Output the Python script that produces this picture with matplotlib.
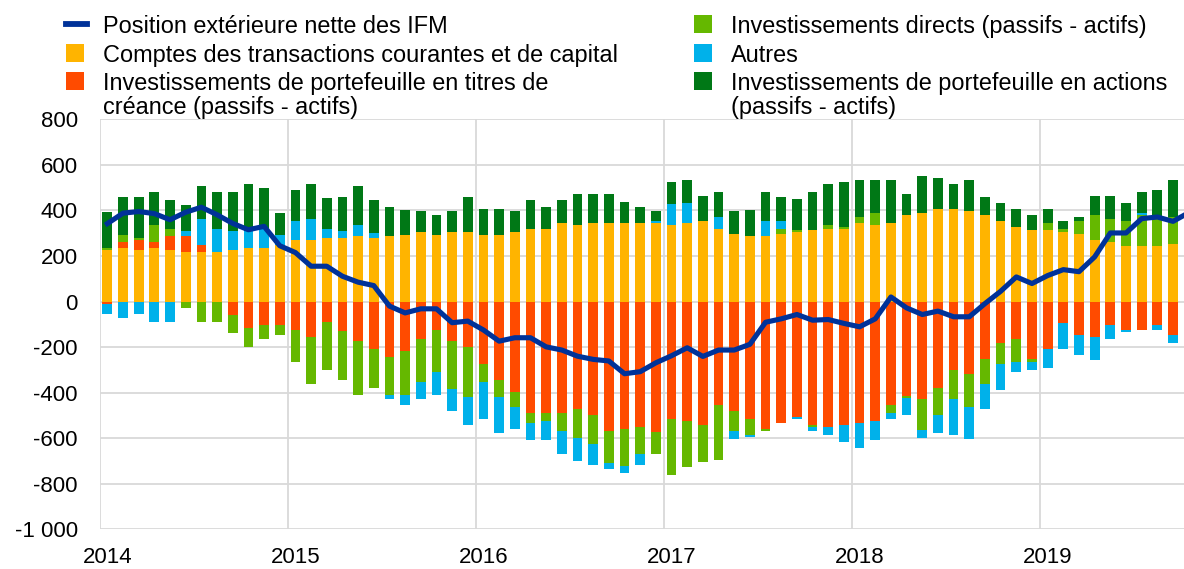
import numpy as np
import matplotlib
matplotlib.use("Agg")
import matplotlib.pyplot as plt
from matplotlib.patches import Rectangle
from matplotlib.lines import Line2D

# ---------------- data (EUR billions, monthly Jan 2014 - Oct 2019) ----------------
years = ["2014", "2015", "2016", "2017", "2018", "2019"]

current_capital = [225, 235, 228, 235, 228, 219, 219, 216, 225, 235, 235, 247,
                   269, 269, 277, 277, 286, 277, 286, 293, 304, 293, 304, 304,
                   293, 293, 304, 320, 320, 346, 337, 346, 346, 346, 346, 346,
                   337, 346, 355, 320, 295, 286, 286, 295, 304, 312, 320, 320,
                   346, 337, 346, 380, 388, 406, 406, 397, 380, 355, 329, 312,
                   312, 304, 295, 269, 261, 244, 244, 244, 253, 250]
portfolio_debt = [-13, 25, 41, 25, 58, 67, 31, 0, -61, -115, -105, -105,
                  -123, -156, -89, -131, -174, -207, -242, -216, -165, -123, -174, -199,
                  -276, -345, -396, -491, -491, -491, -473, -499, -568, -558, -550, -575,
                  -515, -524, -542, -456, -482, -515, -558, -533, -507, -542, -550, -542,
                  -533, -524, -456, -413, -429, -380, -302, -320, -251, -183, -166, -251,
                  -207, -96, -147, -156, -105, -123, -123, -105, -147, -165]
direct_inv = [8, 34, 9, 77, 34, -28, -89, -89, -79, -85, -61, -42,
              -143, -204, -212, -212, -238, -171, -169, -196, -187, -187, -212, -222,
              -76, -76, -69, -41, -34, -77, -128, -127, -143, -162, -118, -93,
              -247, -204, -161, -238, -85, -69, -9, 25, 9, -9, 18, 9,
              25, 51, -35, -9, -137, -120, -127, -145, -111, -93, -101, -16,
              34, 16, 60, 111, 102, 111, 136, 127, 118, 160]
others = [-41, -72, -54, -89, -89, 25, 114, 104, 86, 76, 85, 47,
          86, 95, 42, 34, 51, 26, -18, -44, -77, -102, -95, -120,
          -162, -155, -93, -77, -85, -101, -101, -93, -25, -34, -51, 9,
          93, 85, 0, 51, -35, -9, 69, 35, -9, -16, -34, -76,
          -111, -85, -25, -76, -35, -76, -155, -137, -111, -111, -42, -34,
          -85, -111, -86, -102, -60, -9, 9, -18, -34, 0]
portfolio_equity = [159, 164, 180, 145, 127, 111, 145, 162, 171, 206, 180, 95,
                    136, 153, 137, 146, 171, 143, 127, 111, 92, 86, 92, 153,
                    112, 112, 92, 127, 93, 101, 136, 127, 127, 93, 67, 41,
                    93, 102, 109, 111, 101, 118, 127, 102, 136, 169, 180, 196,
                    162, 145, 187, 93, 162, 136, 111, 136, 77, 76, 77, 67,
                    60, 35, 16, 85, 101, 76, 93, 120, 162, 150]
mfi_position = [342, 388, 395, 386, 359, 392, 414, 381, 343, 315, 330, 245,
                215, 155, 155, 111, 85, 70, -20, -50, -32, -32, -93, -86,
                -125, -174, -159, -159, -199, -213, -240, -254, -261, -317, -308, -269,
                -238, -203, -241, -213, -213, -188, -91, -76, -57, -82, -79, -96,
                -111, -76, 20, -28, -57, -42, -67, -67, -9, 45, 108, 79,
                114, 140, 131, 196, 301, 301, 364, 371, 352, 390]

labels = ["Position extérieure nette des IFM",
          "Comptes des transactions courantes et de capital",
          "Investissements de portefeuille en titres de\ncréance (passifs - actifs)",
          "Investissements directs (passifs - actifs)",
          "Autres",
          "Investissements de portefeuille en actions\n(passifs - actifs)"]

# ---------------- style ----------------
C_LINE = "#003299"
C_CA = "#FFB400"
C_DEBT = "#FF4B00"
C_FDI = "#65B800"
C_OTH = "#00B1EA"
C_EQ = "#007816"
GRID = "#D9D9D9"

plt.rcParams["font.family"] = ["Liberation Sans", "DejaVu Sans"]

W, H = 1184, 569
fig = plt.figure(figsize=(W / 100, H / 100), dpi=100)

x0_px, x1_px = 99.5, 1184.0
y_top_px, y_bot_px = 119.3, 529.3
ax = fig.add_axes([x0_px / W, 1 - y_bot_px / H, (x1_px - x0_px) / W, (y_bot_px - y_top_px) / H])

n = len(current_capital)
x = np.arange(n) + 0.5
series = [(current_capital, C_CA), (portfolio_debt, C_DEBT), (direct_inv, C_FDI),
          (others, C_OTH), (portfolio_equity, C_EQ)]
pos_base = np.zeros(n)
neg_base = np.zeros(n)
bw = 0.62
for vals, col in series:
    v = np.asarray(vals, dtype=float)
    p = np.where(v > 0, v, 0)
    m = np.where(v < 0, v, 0)
    ax.bar(x, p, bw, bottom=pos_base, color=col, linewidth=0, zorder=2)
    ax.bar(x, m, bw, bottom=neg_base, color=col, linewidth=0, zorder=2)
    pos_base += p
    neg_base += m

ax.plot(x, mfi_position, color=C_LINE, lw=3.7, zorder=3, solid_joinstyle="round")

ax.set_xlim(0, 69.2)
ax.set_ylim(-1000, 800)
ax.set_xticks(np.arange(0, n, 12))
ax.set_xticklabels([])
ax.set_xticks(np.arange(0, n, 12) + 0.5, minor=True)
ax.set_xticklabels(years, minor=True)
yt = np.arange(-1000, 801, 200)
ax.set_yticks(yt)
ax.set_yticklabels([f"{v:,}".replace(",", " ") for v in yt])
ax.tick_params(axis="both", which="both", length=0, labelsize=16, colors="black")
ax.tick_params(axis="x", which="minor", pad=13)
ax.tick_params(axis="y", pad=15.5)
ax.grid(True, which="major", color=GRID, lw=1.3, zorder=0)
ax.set_axisbelow(True)
for s in ax.spines.values():
    s.set_visible(False)

# ---------------- legend (drawn in figure pixel coords) ----------------
def fx(px):
    return px / W

def fy(py):
    return 1 - py / H

fs = 16.9
col_x = [(66, 103), (694, 731)]
rows_y = [24, 52.5, 81]
line_pitch = 24
handles = ["line", C_CA, C_DEBT, C_FDI, C_OTH, C_EQ]
for i, (lab, h) in enumerate(zip(labels, handles)):
    c = i // 3
    r = i % 3
    hx, tx = col_x[c]
    cy = rows_y[r]
    if h == "line":
        fig.add_artist(Line2D([fx(hx), fx(hx + 21)], [fy(cy), fy(cy)], color=C_LINE, lw=4.2,
                              transform=fig.transFigure))
    else:
        fig.add_artist(Rectangle((fx(hx), fy(cy + 9)), 18 / W, 18 / H, color=h,
                                 transform=fig.transFigure, lw=0))
    for k, part in enumerate(lab.split("\n")):
        fig.text(fx(tx), fy(cy + 9 + k * line_pitch), part, fontsize=fs,
                 ha="left", va="baseline")

fig.savefig("out.png", dpi=100)
